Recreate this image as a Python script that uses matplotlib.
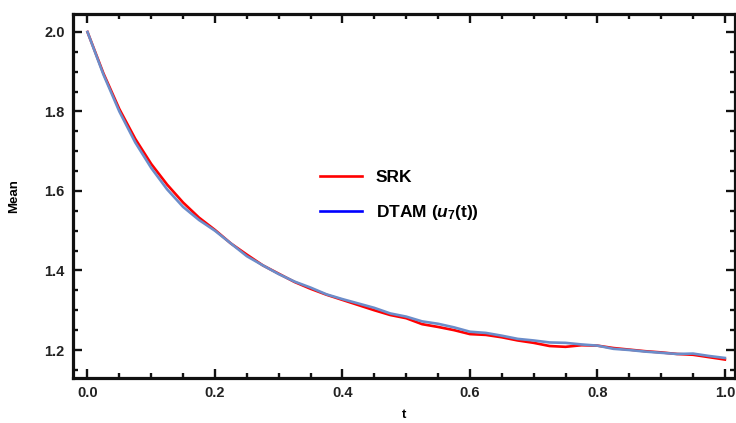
import matplotlib.pyplot as plt
import numpy as np

plt.rcParams['font.family'] = 'Liberation Sans'
plt.rcParams['mathtext.fontset'] = 'custom'
plt.rcParams['mathtext.rm'] = 'Liberation Sans:bold'
plt.rcParams['mathtext.bf'] = 'Liberation Sans:bold'
plt.rcParams['mathtext.it'] = 'Liberation Sans:bold:italic'

# time grid and the two mean curves
t = [0.0, 0.025, 0.05, 0.075, 0.1, 0.125, 0.15, 0.175, 0.2, 0.225,
     0.25, 0.275, 0.3, 0.325, 0.35, 0.375, 0.4, 0.425, 0.45, 0.475,
     0.5, 0.525, 0.55, 0.575, 0.6, 0.625, 0.65, 0.675, 0.7, 0.725,
     0.75, 0.775, 0.8, 0.825, 0.85, 0.875, 0.9, 0.925, 0.95, 0.975, 1.0]
srk = [2.000, 1.896, 1.806, 1.731, 1.668, 1.616, 1.571, 1.533, 1.502, 1.468,
       1.440, 1.413, 1.392, 1.371, 1.354, 1.339, 1.326, 1.313, 1.300, 1.288,
       1.280, 1.265, 1.258, 1.250, 1.240, 1.238, 1.232, 1.224, 1.218, 1.210,
       1.208, 1.212, 1.211, 1.205, 1.201, 1.197, 1.194, 1.190, 1.188, 1.182, 1.176]
dtam = [2.000, 1.893, 1.800, 1.722, 1.658, 1.604, 1.560, 1.527, 1.500, 1.468,
        1.436, 1.413, 1.391, 1.372, 1.357, 1.340, 1.328, 1.317, 1.306, 1.292,
        1.284, 1.272, 1.266, 1.257, 1.246, 1.243, 1.236, 1.228, 1.224, 1.219,
        1.218, 1.214, 1.211, 1.203, 1.200, 1.196, 1.193, 1.190, 1.191, 1.185, 1.180]

fig = plt.figure(figsize=(7.36, 4.23), dpi=100)
ax = fig.add_axes([0.0992, 0.1064, 0.9, 0.8606])

ax.plot(t, srk, color='#ff0000', lw=1.9)
ax.plot(t, dtam, color='#6b8dca', lw=1.9)
# legend handles: pure colours as in the reference key
h1, = ax.plot([], [], color='#ff0000', lw=1.9)
h2, = ax.plot([], [], color='#0000ff', lw=1.9)

ax.set_xlim(-0.0227, 1.0165)
ax.set_ylim(1.1296, 2.0453)
ax.set_xticks([0.0, 0.2, 0.4, 0.6, 0.8, 1.0])
ax.set_yticks([1.2, 1.4, 1.6, 1.8, 2.0])
ax.set_xticks(np.arange(0, 1.01, 0.05), minor=True)
ax.set_yticks(np.arange(1.15, 2.05, 0.05), minor=True)
ax.tick_params(which='both', direction='in', top=True, right=True,
               width=1.7, colors='#111111', labelsize=10.5)
ax.tick_params(which='major', length=6.5, pad=6)
ax.tick_params(which='minor', length=3.5)
for lab in ax.get_xticklabels() + ax.get_yticklabels():
    lab.set_fontweight('bold')
    lab.set_color('#222222')
for s in ax.spines.values():
    s.set_linewidth(2.3)
    s.set_color('#111111')

ax.set_xlabel('t', fontsize=9.5, fontweight='bold', labelpad=6)
ax.set_ylabel('Mean', fontsize=9.5, fontweight='bold', labelpad=17)

ax.legend([h1, h2], ['SRK', r'DTAM ($u_{7}$(t))'], loc='center left',
          bbox_to_anchor=(0.373, 0.50), frameon=False,
          borderpad=0, borderaxespad=0,
          handlelength=2.4, handletextpad=0.8, labelspacing=1.0,
          prop={'weight': 'bold', 'size': 12.5})

fig.savefig('out.png', dpi=100)
